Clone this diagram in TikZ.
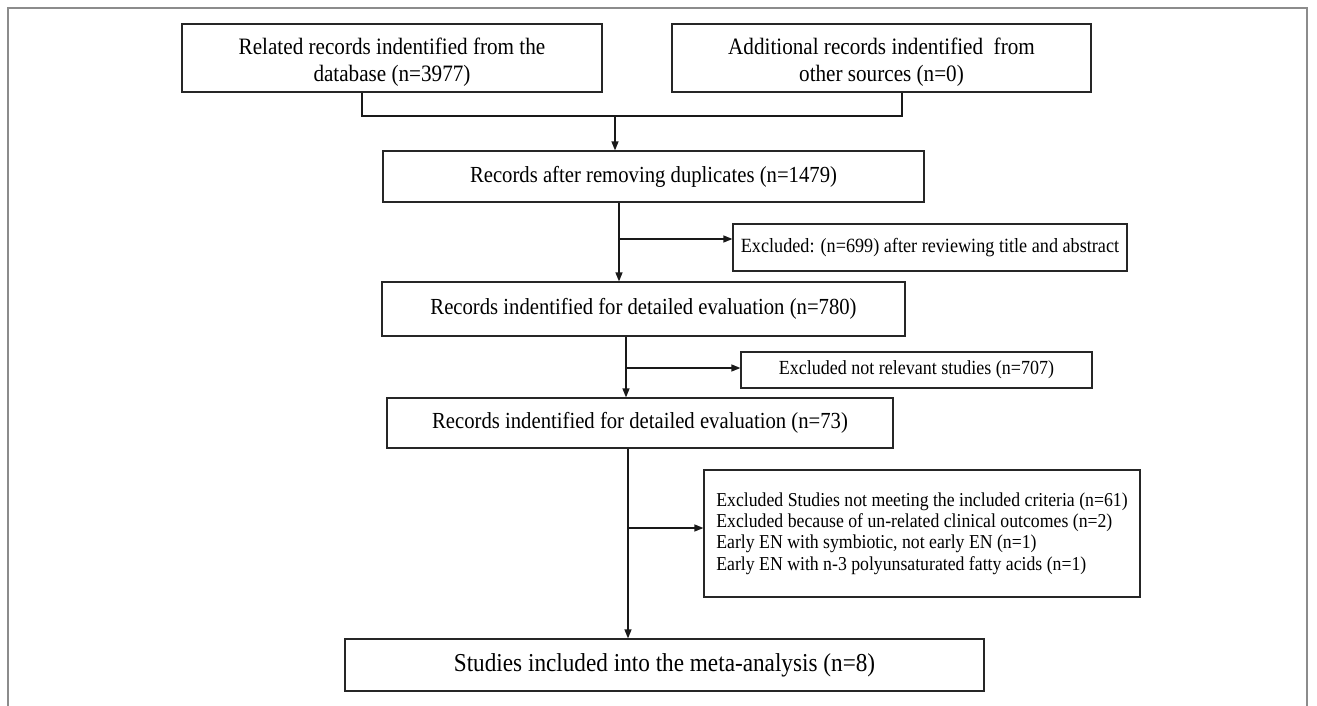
\documentclass[tikz,border=0pt]{standalone}
\usepackage{fontspec}
\setmainfont[FakeStretch=0.9]{Liberation Serif}
\usetikzlibrary{arrows.meta}
\begin{document}
\begin{tikzpicture}[x=1pt,y=-1pt,
  box/.style={draw=black!85, line width=1.2pt, inner sep=0pt, align=center},
  toptext/.style={font=\fontsize{23.5}{27}\selectfont},
  bigtext/.style={font=\fontsize{23}{27}\selectfont},
  midtext/.style={font=\fontsize{20.2}{23}\selectfont},
  conn/.style={line width=1.3pt, draw=black!90},
  arr/.style={conn, -{Triangle[length=9pt,width=7pt]}},
  frameline/.style={draw=black!45, line width=2pt}]
\useasboundingbox (0,0) rectangle (1317,706);
\draw[frameline] (8,706) -- (8,8) -- (1307,8) -- (1307,706);

\node[box, toptext, minimum width=420pt, minimum height=68pt] (A) at (392,58)
  {\rule{0pt}{25pt}Related records indentified from the\\database (n=3977)};
\node[box, toptext, minimum width=419pt, minimum height=68pt] (B) at (881.5,58)
  {\rule{0pt}{25pt}Additional records indentified\ \ from\\other sources (n=0)};
\node[box, bigtext, minimum width=541pt, minimum height=51pt] (C) at (653.5,176.5)
  {Records after removing duplicates (n=1479)};
\node[box, midtext, minimum width=394pt, minimum height=47pt] (E) at (930,247.5)
  {Excluded: (n=699) after reviewing title and abstract};
\node[box, bigtext, minimum width=523pt, minimum height=54pt] (D) at (643.5,309)
  {Records indentified for detailed evaluation (n=780)};
\node[box, font=\fontsize{20}{23}\selectfont, minimum width=351pt, minimum height=36pt] (G) at (916.5,370)
  {Excluded not relevant studies (n=707)};
\node[box, bigtext, minimum width=506pt, minimum height=50pt] (F) at (640,423)
  {Records indentified for detailed evaluation (n=73)};
\node[box, font=\fontsize{19.7}{21.3}\selectfont, align=left, minimum width=436pt, minimum height=127pt] (I) at (922,533.5)
  {Excluded Studies not meeting the included criteria (n=61)\\
   Excluded because of un-related clinical outcomes (n=2)\\
   Early EN with symbiotic, not early EN (n=1)\\
   Early EN with n-3 polyunsaturated fatty acids (n=1)};
\node[box, font=\fontsize{25.8}{30}\selectfont, minimum width=639pt, minimum height=52pt] (H) at (664.5,665)
  {Studies included into the meta-analysis (n=8)};

\coordinate (jA) at (362,116);
\coordinate (jB) at (902,116);
\coordinate (jM) at (615,116);
\draw[conn] (A.south -| jA) -- (jA) -- (jB) -- (B.south -| jB);
\draw[arr] (jM) -- (C.north -| jM);
\coordinate (s1) at (619,239);
\draw[arr] (C.south -| s1) -- (D.north -| s1);
\draw[arr] (s1) -- (E.west |- s1);
\coordinate (s2) at (626,368);
\draw[arr] (D.south -| s2) -- (F.north -| s2);
\draw[arr] (s2) -- (G.west |- s2);
\coordinate (s3) at (628,528);
\draw[arr] (F.south -| s3) -- (H.north -| s3);
\draw[arr] (s3) -- (I.west |- s3);
\end{tikzpicture}
\end{document}
